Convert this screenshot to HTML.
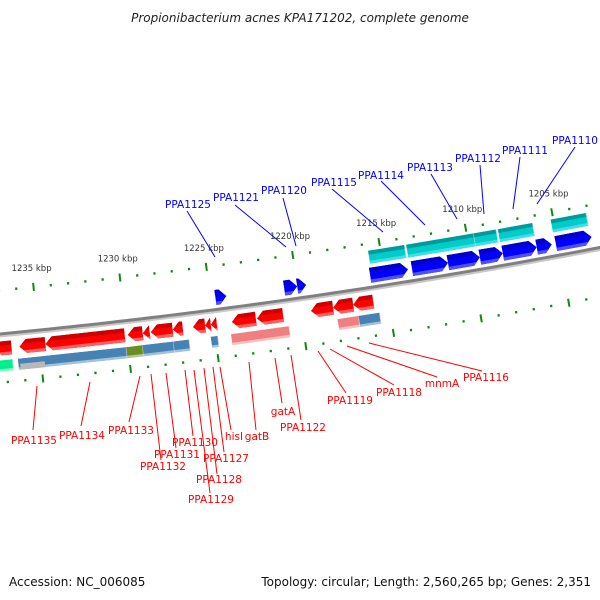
<!DOCTYPE html>
<html><head><meta charset="utf-8"><style>
html,body{margin:0;padding:0;background:#fff;}
svg{display:block;font-family:"DejaVu Sans","Liberation Sans",sans-serif;}
</style></head><body>
<svg id="chart" width="600" height="600" viewBox="0 0 600 600" xmlns="http://www.w3.org/2000/svg">
<text x="300" y="22" text-anchor="middle" font-size="12" font-style="italic" fill="#222">Propionibacterium acnes KPA171202, complete genome</text>
<g id="ticks"></g>
<g id="backbone"></g>
<g id="genes"></g>
<g id="labels"></g>
<text x="9" y="586" font-size="12" fill="#111">Accession: NC_006085</text>
<text x="591" y="586" font-size="12" fill="#111" text-anchor="end">Topology: circular; Length: 2,560,265 bp; Genes: 2,351</text>
</svg>
<script>
// data (kbp)
const fwdStarts = [1224.71,1220.75,1220.0,1215.80,1213.39,1211.32,1209.48,1208.16,1206.21,1205.11];
const fwdEnds   = [1224.08,1220.0,1219.48,1213.62,1211.32,1209.48,1208.16,1206.21,1205.34,1203.05];
const cyanStarts = [1215.7,1213.5,1209.6,1208.2,1205.15];
const cyanEnds   = [1213.6,1209.6,1208.3,1206.2,1203.1];
const revStarts = [1237.6,1236.15,1234.66,1229.94,1229.08,1228.62,1227.36,1226.2,1225.5,1225.17,1223.97,1222.53,1219.43,1218.16,1217.01];
const revEnds   = [1236.6,1234.66,1230.11,1229.08,1228.68,1227.36,1226.78,1225.5,1225.17,1224.83,1222.59,1221.03,1218.16,1217.01,1215.86];
const barStarts = [1237.6,1236.3,1230.1,1229.17,1227.4,1225.26,1224.1,1218.0,1216.8];
const barEnds   = [1236.6,1230.1,1229.17,1227.4,1226.5,1224.86,1220.78,1216.8,1215.6];
const barColors = ["#00ee8c","#4682b4","#6b8e23","#4682b4","#4682b4","#4682b4","#f08080","#f08080","#4682b4"];
const majorTicks = [1235,1230,1225,1220,1215,1210,1205];
const tickLabels = ["1235 kbp","1230 kbp","1225 kbp","1220 kbp","1215 kbp","1210 kbp","1205 kbp"];
const fwdLabels = ["PPA1125","PPA1121","PPA1120","PPA1115","PPA1114","PPA1113","PPA1112","PPA1111","PPA1110"];
const revLabels = ["PPA1135","PPA1134","PPA1133","PPA1132","PPA1131","PPA1130","PPA1129","PPA1128","PPA1127","hisI","gatB","gatA","PPA1122","PPA1119","PPA1118","mnmA","PPA1116"];

const NS="http://www.w3.org/2000/svg";
function Y(x){return 334.5-0.0962*x-8e-5*x*x;}
function bxOf(k){return 38+(1235-k)*17.4;}
function P(bx,v){const d=-0.0962-1.6e-4*bx;const L=Math.sqrt(1+d*d);return [bx+(-d/L)*v,Y(bx)+v/L];}
function mk(tag,attrs,parent){const e=document.createElementNS(NS,tag);for(const k in attrs)e.setAttribute(k,attrs[k]);parent.appendChild(e);return e;}
function pts(a){return a.map(p=>p[0].toFixed(1)+","+p[1].toFixed(1)).join(" ");}
function shape(x0,x1,v1,v2,a,b,dir,arrow){
  const vm=(v1+v2)/2, half=(v2-v1)/2;
  let h=arrow?Math.min(7,x1-x0):0;
  const hx=v=>h*Math.abs(v-vm)/half;
  let out=[];
  if(dir>0){
    out.push(P(x0,a));out.push(P(x1-hx(a),a));
    if(arrow&&a<vm&&vm<b)out.push(P(x1,vm));
    out.push(P(x1-hx(b),b));out.push(P(x0,b));
  }else{
    out.push(P(x1,a));out.push(P(x0+hx(a),a));
    if(arrow&&a<vm&&vm<b)out.push(P(x0,vm));
    out.push(P(x0+hx(b),b));out.push(P(x1,b));
  }
  return out;
}
function feature(g,s,e,v1,v2,dir,arrow,col,dark,light,name){
  const x0=Math.min(bxOf(s),bxOf(e)),x1=Math.max(bxOf(s),bxOf(e));
  const grp=mk("g",{},g);
  
  
  mk("polygon",{points:pts(shape(x0,x1,v1,v2,v1,v2,dir,arrow)),fill:col},grp);
  mk("polygon",{points:pts(shape(x0,x1,v1,v2,v1,v1+(v2-v1)*0.3,dir,arrow)),fill:dark},grp);
  mk("polygon",{points:pts(shape(x0,x1,v1,v2,v2-(v2-v1)*0.22,v2,dir,arrow)),fill:light},grp);
  if(!arrow) mk("polygon",{points:pts([P(x1-0.6,v1),P(x1,v1),P(x1,v2),P(x1-0.6,v2)]),fill:"#fff","fill-opacity":"0.6"},grp);
}
// ticks
const tg=document.getElementById("ticks");
for(let k=1239;k>=1201;k--){
  const bx=bxOf(k); if(bx<-5||bx>610)continue;
  const major=k%5===0;
  [-44,48].forEach(v=>{
    const a=P(bx,v-(major?4:1.2)),b=P(bx,v+(major?4:1.2));
    const l=mk("line",{x1:a[0],y1:a[1],x2:b[0],y2:b[1],stroke:"#118811","stroke-width":major?2:2.2},tg);
    
    
  });
}
majorTicks.forEach((k,i)=>{
  const p=P(bxOf(k),-63);
  const t=mk("text",{x:p[0],y:p[1]+3,"font-size":"8.5","text-anchor":"middle",fill:"#333"},tg);
  t.textContent=tickLabels[i];
  
  
});
// backbone
const bb=document.getElementById("backbone");
function curve(v){let d="";for(let x=-10;x<=620;x+=10){const p=P(x,v);d+=(x===-10?"M":"L")+p[0].toFixed(1)+","+p[1].toFixed(1);}return d;}
mk("path",{d:curve(1.5),stroke:"#c8c8c8","stroke-width":3,fill:"none"},bb);
mk("path",{d:curve(-0.5),stroke:"#808080","stroke-width":3,fill:"none"},bb);
// genes
const gg=document.getElementById("genes");
cyanStarts.forEach((s,i)=>feature(gg,s,cyanEnds[i],-37,-24,1,false,"#00cccc","#009a9a","#40e0e0","homolog-bar-forward"));
fwdStarts.forEach((s,i)=>feature(gg,s,fwdEnds[i],-20,-5,1,true,"#0000ff","#0000c8","#5050ff","gene-forward"));
revStarts.forEach((s,i)=>feature(gg,s,revEnds[i],7,21,-1,true,"#ff0000","#cc0000","#ff6060","gene-reverse"));
barStarts.forEach((s,i)=>feature(gg,s,barEnds[i],26,37,-1,false,barColors[i],barColors[i],"#ffffff80","homolog-bar-reverse"));
(function(){const x0=bxOf(1236.2),x1=bxOf(1234.8);const p=mk("polygon",{points:pts([P(x0,31),P(x1,31),P(x1,37),P(x0,37)]),fill:"#b8b8b8"},gg);

})();
// labels
const lg=document.getElementById("labels");
const fwdText=[[188,208],[236,201],[284,194],[334,186],[381,179],[430,171],[478,162],[525,154],[575,144]];
const fwdLine=[[187,211,215,257],[235,205,286,247],[283,198,296,246],[332,189,383,232],[381,181,425,225],[431,174,457,219],[480,165,484,214],[520,157,513,209],[575,147,537,204]];
const revText=[[34,444],[82,439],[131,434],[163,470],[177,458],[195,446],[211,503],[219,483],[226,462],[234,440],[257,440],[283,415],[303,431],[350,404],[399,396],[442,387],[486,381]];
const revLine=[[37,386,33,430],[90,382,81,426],[140,376,129,422],[151,374,161,460],[166,373,176,448],[185,370,193,436],[194,370,210,493],[204,368,217,474],[213,367,224,452],[220,367,231,430],[249,362,256,430],[275,358,282,403],[291,355,301,420],[318,351,346,393],[330,349,394,385],[347,346,437,377],[369,343,482,371]];
function lab(txt,tp,ln,col){
  const l=mk("line",{x1:ln[0],y1:ln[1],x2:ln[2],y2:ln[3],stroke:col,"stroke-width":1},lg);
  
  
  const t=mk("text",{x:tp[0],y:tp[1],"font-size":"10.5","text-anchor":"middle",fill:col},lg);
  t.textContent=txt;
  
  
}
fwdLabels.forEach((n,i)=>lab(n,fwdText[i],fwdLine[i],"#0000ff"));
revLabels.forEach((n,i)=>lab(n,revText[i],revLine[i],"#ff0000"));
</script>
</body></html>
